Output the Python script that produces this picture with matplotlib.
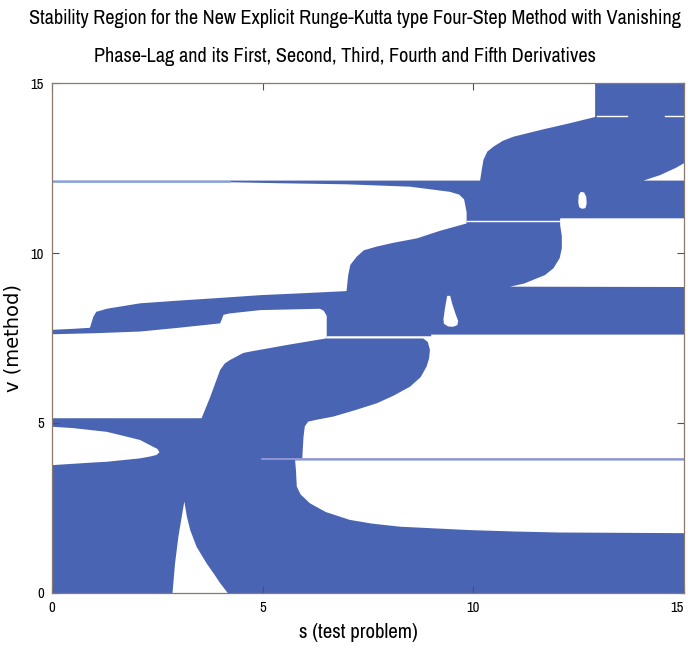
import matplotlib
matplotlib.use("Agg")
import matplotlib.pyplot as plt
from matplotlib import font_manager

# stability region is filled, unstable pockets are cut out in white
s_range = [0, 15]
v_range = [0, 15]

# unstable pockets (s, v boundaries)
top_s = [0, 4.22, 10.16, 10.2, 10.24, 10.33, 10.48, 10.7, 10.95, 11.6, 12.3, 12.89, 12.89, 0]
top_v = [12.13, 12.13, 12.13, 12.45, 12.74, 12.98, 13.13, 13.3, 13.42, 13.62, 13.82, 14.0, 15, 15]

mid_s = [0, 4.22, 5.5, 7.0, 8.5, 9.44, 9.66, 9.78, 9.84, 9.84, 9.2, 8.66, 8.1, 7.71, 7.4, 7.23,
         7.08, 7.03, 6.99, 6.0, 4.94, 4.0, 3.0, 2.09, 1.3, 1.05, 0.98, 0.9, 0.5, 0]
mid_v = [12.08, 12.08, 12.05, 12.02, 11.95, 11.8, 11.72, 11.58, 11.2, 10.87, 10.65, 10.43, 10.3,
         10.19, 10.08, 9.89, 9.65, 9.35, 8.88, 8.82, 8.76, 8.68, 8.6, 8.52, 8.36, 8.27, 8.12, 7.8,
         7.77, 7.74]

left_s = [0, 3.55, 3.75, 3.99, 4.1, 4.22, 4.54, 4.7, 5.6, 6.52, 6.52, 6.45, 6.36, 4.94, 4.2,
          4.07, 4.02, 3.99, 3.0, 2.09, 1.0, 0]
left_v = [5.14, 5.14, 5.75, 6.56, 6.75, 6.85, 7.06, 7.1, 7.3, 7.49, 8.15, 8.3, 8.36, 8.32, 8.22,
          8.18, 8.02, 7.93, 7.8, 7.69, 7.64, 7.61]

right_s = [6.52, 9.0, 9.0, 15, 15, 5.94, 5.95, 5.97, 6.0, 6.08, 6.3, 6.68, 7.2, 7.71, 8.1, 8.5,
           8.75, 8.89, 8.95, 8.97, 8.92, 8.81, 6.52]
right_v = [7.55, 7.55, 7.6, 7.6, 3.96, 3.96, 4.2, 4.6, 4.9, 5.04, 5.1, 5.19, 5.38, 5.58, 5.8,
           6.07, 6.35, 6.66, 6.9, 7.15, 7.38, 7.49, 7.49]

low_s = [5.77, 15, 15, 12.0, 10.95, 9.92, 8.26, 7.6, 7.07, 6.5, 6.12, 5.9, 5.81, 5.79]
low_v = [3.9, 3.9, 1.76, 1.78, 1.81, 1.85, 1.95, 2.04, 2.15, 2.38, 2.64, 2.9, 3.13, 3.6]

upright_s = [12.06, 15, 15, 10.87, 11.2, 11.42, 11.7, 11.9, 12.05, 12.1, 12.1, 12.06]
upright_v = [11.02, 11.02, 9.0, 9.01, 9.1, 9.21, 9.35, 9.55, 9.85, 10.14, 10.5, 10.82]

wedge_s = [14.04, 14.43, 14.8, 15, 15]
wedge_v = [12.13, 12.29, 12.5, 12.64, 12.13]

oval_s = [0, 1.0, 1.3, 2.09, 2.35, 2.48, 2.55, 2.5, 2.4, 2.09, 1.6, 1.3, 0.5, 0]
oval_v = [3.76, 3.84, 3.86, 3.96, 4.02, 4.06, 4.14, 4.24, 4.3, 4.5, 4.65, 4.74, 4.85, 4.89]

tent_s = [2.86, 2.92, 3.0, 3.08, 3.14, 3.2, 3.28, 3.43, 3.67, 3.85, 3.99, 4.17]
tent_v = [0, 0.87, 1.66, 2.25, 2.69, 2.25, 1.85, 1.36, 0.87, 0.55, 0.29, 0]

holeA_s = [12.55, 12.63, 12.68, 12.69, 12.66, 12.58, 12.51, 12.49, 12.5]
holeA_v = [11.8, 11.78, 11.65, 11.45, 11.32, 11.3, 11.35, 11.5, 11.7]

holeB_s = [9.38, 9.45, 9.5, 9.58, 9.64, 9.62, 9.52, 9.4, 9.3, 9.29, 9.33]
holeB_v = [8.74, 8.74, 8.5, 8.2, 8.0, 7.88, 7.83, 7.84, 7.92, 8.05, 8.4]

gaps = [top_s, mid_s, left_s, right_s, low_s, upright_s, wedge_s, oval_s, tent_s, holeA_s, holeB_s]
gaps_v = [top_v, mid_v, left_v, right_v, low_v, upright_v, wedge_v, oval_v, tent_v, holeA_v, holeB_v]

# thin boundary lines
line_top_s, line_top_v = [0, 4.22], [12.1, 12.1]
line_low_s, line_low_v = [4.98, 15], [3.93, 3.93]
slits = [([6.52, 9.0], 7.52), ([9.84, 12.06], 10.94), ([12.93, 13.64], 14.03), ([14.55, 15], 14.03)]

title_lines = ['Stability Region for the New Explicit Runge-Kutta type Four-Step Method with Vanishing',
               'Phase-Lag and its First, Second, Third, Fourth and Fifth Derivatives']

blue = '#4a64b4'
edge = '#8a7a6e'

# prefer a condensed face if one is around
installed = sorted({f.name for f in font_manager.fontManager.ttflist})
cond = [n for n in installed if 'Narrow' in n or 'Condensed' in n]
narrow = [cond[0], 'Liberation Sans'] if cond else ['Liberation Sans', 'DejaVu Sans']

fig = plt.figure(figsize=(6.88, 6.51), dpi=100)
ax = fig.add_axes([0.0756, 0.0891, 0.9186, 0.7834])

ax.fill([s_range[0], s_range[1], s_range[1], s_range[0]],
        [v_range[0], v_range[0], v_range[1], v_range[1]], color=blue, lw=0)
for gs, gv in zip(gaps, gaps_v):
    ax.fill(gs, gv, color='white', lw=0)

ax.plot(line_top_s, line_top_v, color='#8aaadc', lw=1.3)
ax.plot(line_low_s, line_low_v, color='#a3a5dc', lw=1.1)
for xs, y in slits:
    ax.plot(xs, [y, y], color='white', lw=1.0)

ax.set_xlim(0, 15)
ax.set_ylim(0, 15)
ax.set_xticks([0, 5, 10, 15])
ax.set_yticks([0, 5, 10, 15])
ax.tick_params(direction='in', length=5, width=0.8, color='#55504a', top=True, right=True,
               labelsize=10.5, pad=6)
for lab in ax.get_xticklabels() + ax.get_yticklabels():
    lab.set_family(narrow)
ax.get_xticklabels()[-1].set_horizontalalignment('right')
for sp in ax.spines.values():
    sp.set_color(edge)
    sp.set_linewidth(0.9)
    sp.set_zorder(5)

ax.set_xlabel('s (test problem)', family=narrow, fontsize=15)
ax.xaxis.set_label_coords(0.484, -0.058)
ax.set_ylabel('v (method)', family='DejaVu Sans', fontsize=14)
ax.yaxis.set_label_coords(-0.046, 0.5)

# two-line heading, each line fitted to its width
renderer = fig.canvas.get_renderer()
for line, cx, cy, width in zip(title_lines, [355, 345], [19, 57], [652, 502]):
    t = fig.text(cx / 688, 1 - cy / 651, line, ha='center', va='center', family=narrow,
                 fontsize=12)
    w = t.get_window_extent(renderer).width
    t.set_fontsize(12 * width / w)

fig.savefig('out.png', dpi=100)
